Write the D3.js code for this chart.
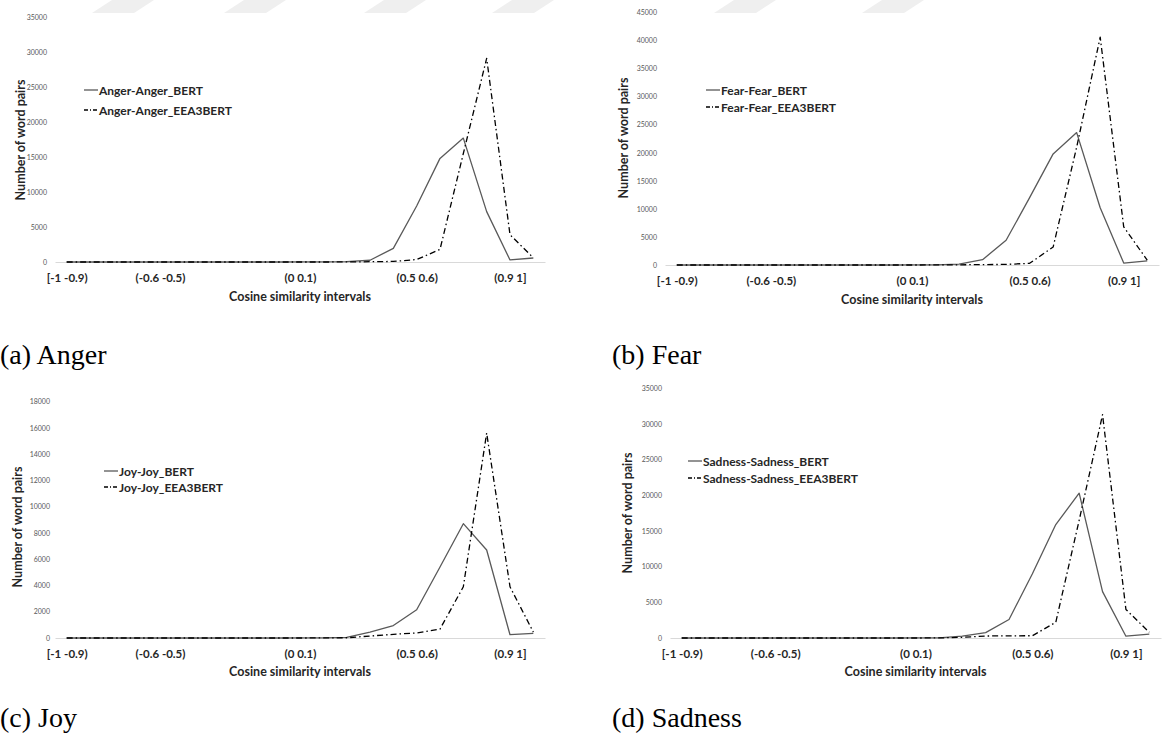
<!DOCTYPE html>
<html>
<head>
<meta charset="utf-8">
<script src="https://cdn.jsdelivr.net/npm/d3@7"></script>
<style>
  html, body { margin: 0; padding: 0; background: #ffffff; }
  svg { display: block; }
  .tick-y text { font-family: Lato, "Liberation Sans", sans-serif; font-size: 7px; fill: #595959; }
  .tick-x text { font-family: Lato, "Liberation Sans", sans-serif; font-size: 11.5px; font-weight: 700; fill: #262626; }
  .axis-title { font-family: Lato, "Liberation Sans", sans-serif; font-size: 12.5px; font-weight: 700; fill: #262626; }
  .legend text { font-family: Lato, "Liberation Sans", sans-serif; font-size: 12px; font-weight: 700; fill: #262626; }
  .caption { font-family: "Liberation Serif", "DejaVu Serif", serif; font-size: 28px; fill: #000; }
</style>
</head>
<body>
<svg id="fig" width="1163" height="743"></svg>
<script>
// Cosine similarity bins (one point per bin)
const categories = [
  "[-1 -0.9)", "(-0.9 -0.8)", "(-0.8 -0.7)", "(-0.7 -0.6)", "(-0.6 -0.5)",
  "(-0.5 -0.4)", "(-0.4 -0.3)", "(-0.3 -0.2)", "(-0.2 -0.1)", "(-0.1 0)",
  "(0 0.1)", "(0.1 0.2)", "(0.2 0.3)", "(0.3 0.4)", "(0.4 0.5)",
  "(0.5 0.6)", "(0.6 0.7)", "(0.7 0.8)", "(0.8 0.9)", "(0.9 1]", "1"
];
// Bins that carry a label on the x axis
const xTickLabels = ["[-1 -0.9)", "(-0.6 -0.5)", "(0 0.1)", "(0.5 0.6)", "(0.9 1]"];

// Number of word pairs per bin
const angerBert   = [0,0,0,0,0,0,0,0,0,0, 5,20,60,250,1950,8000,14800,17700,7200,290,570];
const angerEea3   = [0,0,0,0,0,0,0,0,0,0, 0,0,10,40,80,350,1800,15500,29100,3900,600];
const fearBert    = [0,0,0,0,0,0,0,0,0,0, 10,40,150,950,4400,12000,19800,23600,10200,350,750];
const fearEea3    = [0,0,0,0,0,0,0,0,0,0, 0,10,30,80,100,300,3200,21000,40600,6800,850];
const joyBert     = [0,0,0,0,0,0,0,0,0,0, 5,15,40,450,950,2150,5400,8700,6700,250,350];
const joyEea3     = [0,0,0,0,0,0,0,0,0,0, 0,5,20,150,280,380,680,3900,15600,3900,450];
const sadnessBert = [0,0,0,0,0,0,0,0,0,0, 5,30,250,750,2600,9000,15900,20300,6500,250,550];
const sadnessEea3 = [0,0,0,0,0,0,0,0,0,0, 0,10,100,280,300,320,2200,16500,31300,4000,800];

// Y axis ticks per panel
const angerTicks   = [0,5000,10000,15000,20000,25000,30000,35000];
const fearTicks    = [0,5000,10000,15000,20000,25000,30000,35000,40000,45000];
const joyTicks     = [0,2000,4000,6000,8000,10000,12000,14000,16000,18000];
const sadnessTicks = [0,5000,10000,15000,20000,25000,30000,35000];

// Series names
const angerNames   = ["Anger-Anger_BERT", "Anger-Anger_EEA3BERT"];
const fearNames    = ["Fear-Fear_BERT", "Fear-Fear_EEA3BERT"];
const joyNames     = ["Joy-Joy_BERT", "Joy-Joy_EEA3BERT"];
const sadnessNames = ["Sadness-Sadness_BERT", "Sadness-Sadness_EEA3BERT"];

const captions = ["(a) Anger", "(b) Fear", "(c) Joy", "(d) Sadness"];

const xTitle = "Cosine similarity intervals";
const yTitle = "Number of word pairs";

const svg = d3.select("#fig");

// faint diagonal marks along the top edge of the page
const topMarks = [92, 224, 364, 492, 714, 862];
svg.append("g").selectAll("path").data(topMarks).join("path")
  .attr("d", d => `M${d},13 L${d + 42},13 L${d + 62},0 L${d + 20},0 Z`)
  .attr("fill", "#efefef");

const styles = {
  bert: { stroke: "#595959", dash: null, width: 1.3 },
  eea3: { stroke: "#000000", dash: "6,3,1.5,3", width: 1.3 }
};

function drawPanel(cfg) {
  const g = svg.append("g");
  const x = d3.scalePoint().domain(categories).range([cfg.x0, cfg.x1]).padding(0.5);
  const y = d3.scaleLinear().domain([0, d3.max(cfg.ticks)]).range([cfg.yZero, cfg.yTop]);

  // y axis: labels only
  const ya = g.append("g").attr("class", "tick-y")
    .attr("transform", `translate(${cfg.x0},0)`)
    .call(d3.axisLeft(y).tickValues(cfg.ticks).tickSize(0).tickPadding(cfg.yPad).tickFormat(d3.format("d")));
  ya.select(".domain").remove();

  // x axis: light baseline and selected bin labels
  const xa = g.append("g").attr("class", "tick-x")
    .attr("transform", `translate(0,${cfg.yZero})`)
    .call(d3.axisBottom(x).tickValues(xTickLabels).tickSize(0).tickSizeOuter(0).tickPadding(cfg.xPad));
  xa.select(".domain").attr("stroke", "#d9d9d9").attr("stroke-width", 1.2);

  // axis titles
  g.append("text").attr("class", "axis-title")
    .attr("x", (cfg.x0 + cfg.x1) / 2).attr("y", cfg.xTitleY)
    .attr("text-anchor", "middle").text(xTitle);
  g.append("text").attr("class", "axis-title")
    .attr("transform", `translate(${cfg.yTitleX},${cfg.yTitleY}) rotate(-90)`)
    .attr("text-anchor", "middle").attr("dominant-baseline", "central").text(yTitle);

  // series lines
  const line = d3.line().x((d, i) => x(categories[i])).y(d => y(d));
  const series = [
    { values: cfg.bert, st: styles.bert, name: cfg.names[0] },
    { values: cfg.eea3, st: styles.eea3, name: cfg.names[1] }
  ];
  series.forEach(s => {
    g.append("path").datum(s.values)
      .attr("d", line)
      .attr("fill", "none")
      .attr("stroke", s.st.stroke)
      .attr("stroke-width", s.st.width)
      .attr("stroke-dasharray", s.st.dash)
      .attr("stroke-linejoin", "round");
  });

  // legend
  const lg = g.append("g").attr("class", "legend");
  series.forEach((s, i) => {
    const ly = cfg.legendY[i];
    lg.append("line")
      .attr("x1", cfg.legendX).attr("x2", cfg.legendX + 14)
      .attr("y1", ly).attr("y2", ly)
      .attr("stroke", s.st.stroke).attr("stroke-width", s.st.width)
      .attr("stroke-dasharray", s.st.dash ? "4,2,1,2" : null);
    lg.append("text").attr("x", cfg.legendX + 15).attr("y", ly)
      .attr("dominant-baseline", "central").text(s.name);
  });

  // caption
  svg.append("text").attr("class", "caption")
    .attr("x", cfg.capX).attr("y", cfg.capY).text(cfg.caption);
}

drawPanel({ x0: 55, x1: 545, yZero: 262, yTop: 17, ticks: angerTicks, xPad: 12, yPad: 8,
  xTitleY: 301, yTitleX: 20, yTitleY: 140, legendX: 84, legendY: [90, 110],
  bert: angerBert, eea3: angerEea3, names: angerNames,
  caption: captions[0], capX: 0, capY: 364 });

drawPanel({ x0: 665, x1: 1159, yZero: 265, yTop: 12.5, ticks: fearTicks, xPad: 12, yPad: 8,
  xTitleY: 304, yTitleX: 623, yTitleY: 138, legendX: 706, legendY: [90, 107],
  bert: fearBert, eea3: fearEea3, names: fearNames,
  caption: captions[1], capX: 612, capY: 364 });

drawPanel({ x0: 55, x1: 545, yZero: 638, yTop: 401.5, ticks: joyTicks, xPad: 12, yPad: 5,
  xTitleY: 676, yTitleX: 17, yTitleY: 527, legendX: 104, legendY: [471, 487],
  bert: joyBert, eea3: joyEea3, names: joyNames,
  caption: captions[2], capX: 0, capY: 727 });

drawPanel({ x0: 670, x1: 1161, yZero: 638, yTop: 388.3, ticks: sadnessTicks, xPad: 12, yPad: 8,
  xTitleY: 676, yTitleX: 627, yTitleY: 513, legendX: 688, legendY: [461, 478],
  bert: sadnessBert, eea3: sadnessEea3, names: sadnessNames,
  caption: captions[3], capX: 612, capY: 727 });
</script>
</body>
</html>
